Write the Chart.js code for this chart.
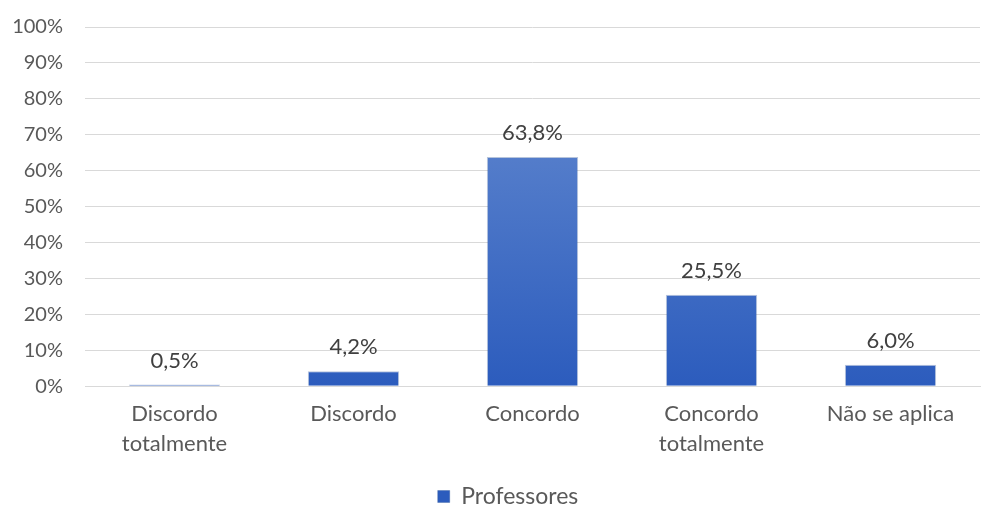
<!DOCTYPE html>
<html>
<head>
<meta charset="utf-8">
<script src="https://cdn.jsdelivr.net/npm/chart.js@4"></script>
<style>
  html, body { margin: 0; padding: 0; background: #fff; }
  #wrap { width: 981px; height: 506px; }
</style>
</head>
<body>
<div id="wrap"><canvas id="bar_chart"></canvas></div>
<script>
var categorias = [["Discordo", "totalmente"], "Discordo", "Concordo", ["Concordo", "totalmente"], "Não se aplica"];
var professores = [0.5, 4.2, 63.8, 25.5, 6.0];
var rotulos = ["0,5%", "4,2%", "63,8%", "25,5%", "6,0%"];

var fonte = "Lato, 'Open Sans', sans-serif";
var cinza = '#595959';

// gradiente vertical das barras, do topo mais claro para a base mais escura
function gradiente(ctx) {
    var chart = ctx.chart;
    var area = chart.chartArea;
    if (!area) return '#4472c4';
    var g = chart.ctx.createLinearGradient(0, area.top, 0, area.bottom);
    g.addColorStop(0, '#6a8fd2');
    g.addColorStop(1, '#2c5cbd');
    return g;
}

// escreve o valor acima de cada barra
var valores = {
    id: 'valores',
    afterDatasetsDraw: function(chart) {
        var c = chart.ctx;
        var meta = chart.getDatasetMeta(0);
        c.save();
        c.font = '22px ' + fonte;
        c.fillStyle = '#404040';
        c.textAlign = 'center';
        c.textBaseline = 'middle';
        meta.data.forEach(function(bar, i) {
            c.fillText(rotulos[i], bar.x, bar.y - 24);
        });
        c.restore();
    }
};

// legenda um pouco deslocada para a direita, centrada sob a área do gráfico
var deslocaLegenda = {
    id: 'deslocaLegenda',
    afterLayout: function(chart) {
        chart.legend.left += 18;
        chart.legend.right += 18;
    }
};

var config = {
    type: 'bar',
    data: {
        labels: categorias,
        datasets: [{
            label: "Professores",
            data: professores,
            backgroundColor: gradiente,
            borderColor: 'rgba(47,85,151,0.35)',
            borderWidth: 1,
            categoryPercentage: 1,
            barPercentage: 0.51
        }]
    },
    options: {
        responsive: true,
        maintainAspectRatio: false,
        animation: false,
        layout: { padding: { top: 27, right: 1, left: 0, bottom: -12 } },
        scales: {
            x: {
                grid: { display: false, drawTicks: false },
                border: { display: true, color: '#d9d9d9' },
                ticks: { color: cinza, font: { family: fonte, size: 22, lineHeight: 1.38 }, padding: 12, maxRotation: 0 }
            },
            y: {
                min: 0,
                max: 100,
                afterFit: function(scale) { scale.width = 85; },
                // marcas invisíveis só para afastar os rótulos das linhas de grade
                grid: { color: '#d9d9d9', drawTicks: true, tickLength: 22, tickColor: 'rgba(0,0,0,0)' },
                border: { display: false },
                ticks: {
                    stepSize: 10,
                    padding: 0,
                    color: cinza,
                    font: { family: fonte, size: 20 },
                    callback: function(v) { return v + '%'; }
                }
            }
        },
        plugins: {
            legend: {
                position: 'bottom',
                labels: {
                    color: cinza,
                    font: { family: fonte, size: 23 },
                    boxWidth: 12,
                    boxHeight: 12,
                    padding: 14
                }
            },
            tooltip: { enabled: false }
        }
    },
    plugins: [valores, deslocaLegenda]
};

new Chart(document.getElementById("bar_chart").getContext("2d"), config);
</script>
</body>
</html>
